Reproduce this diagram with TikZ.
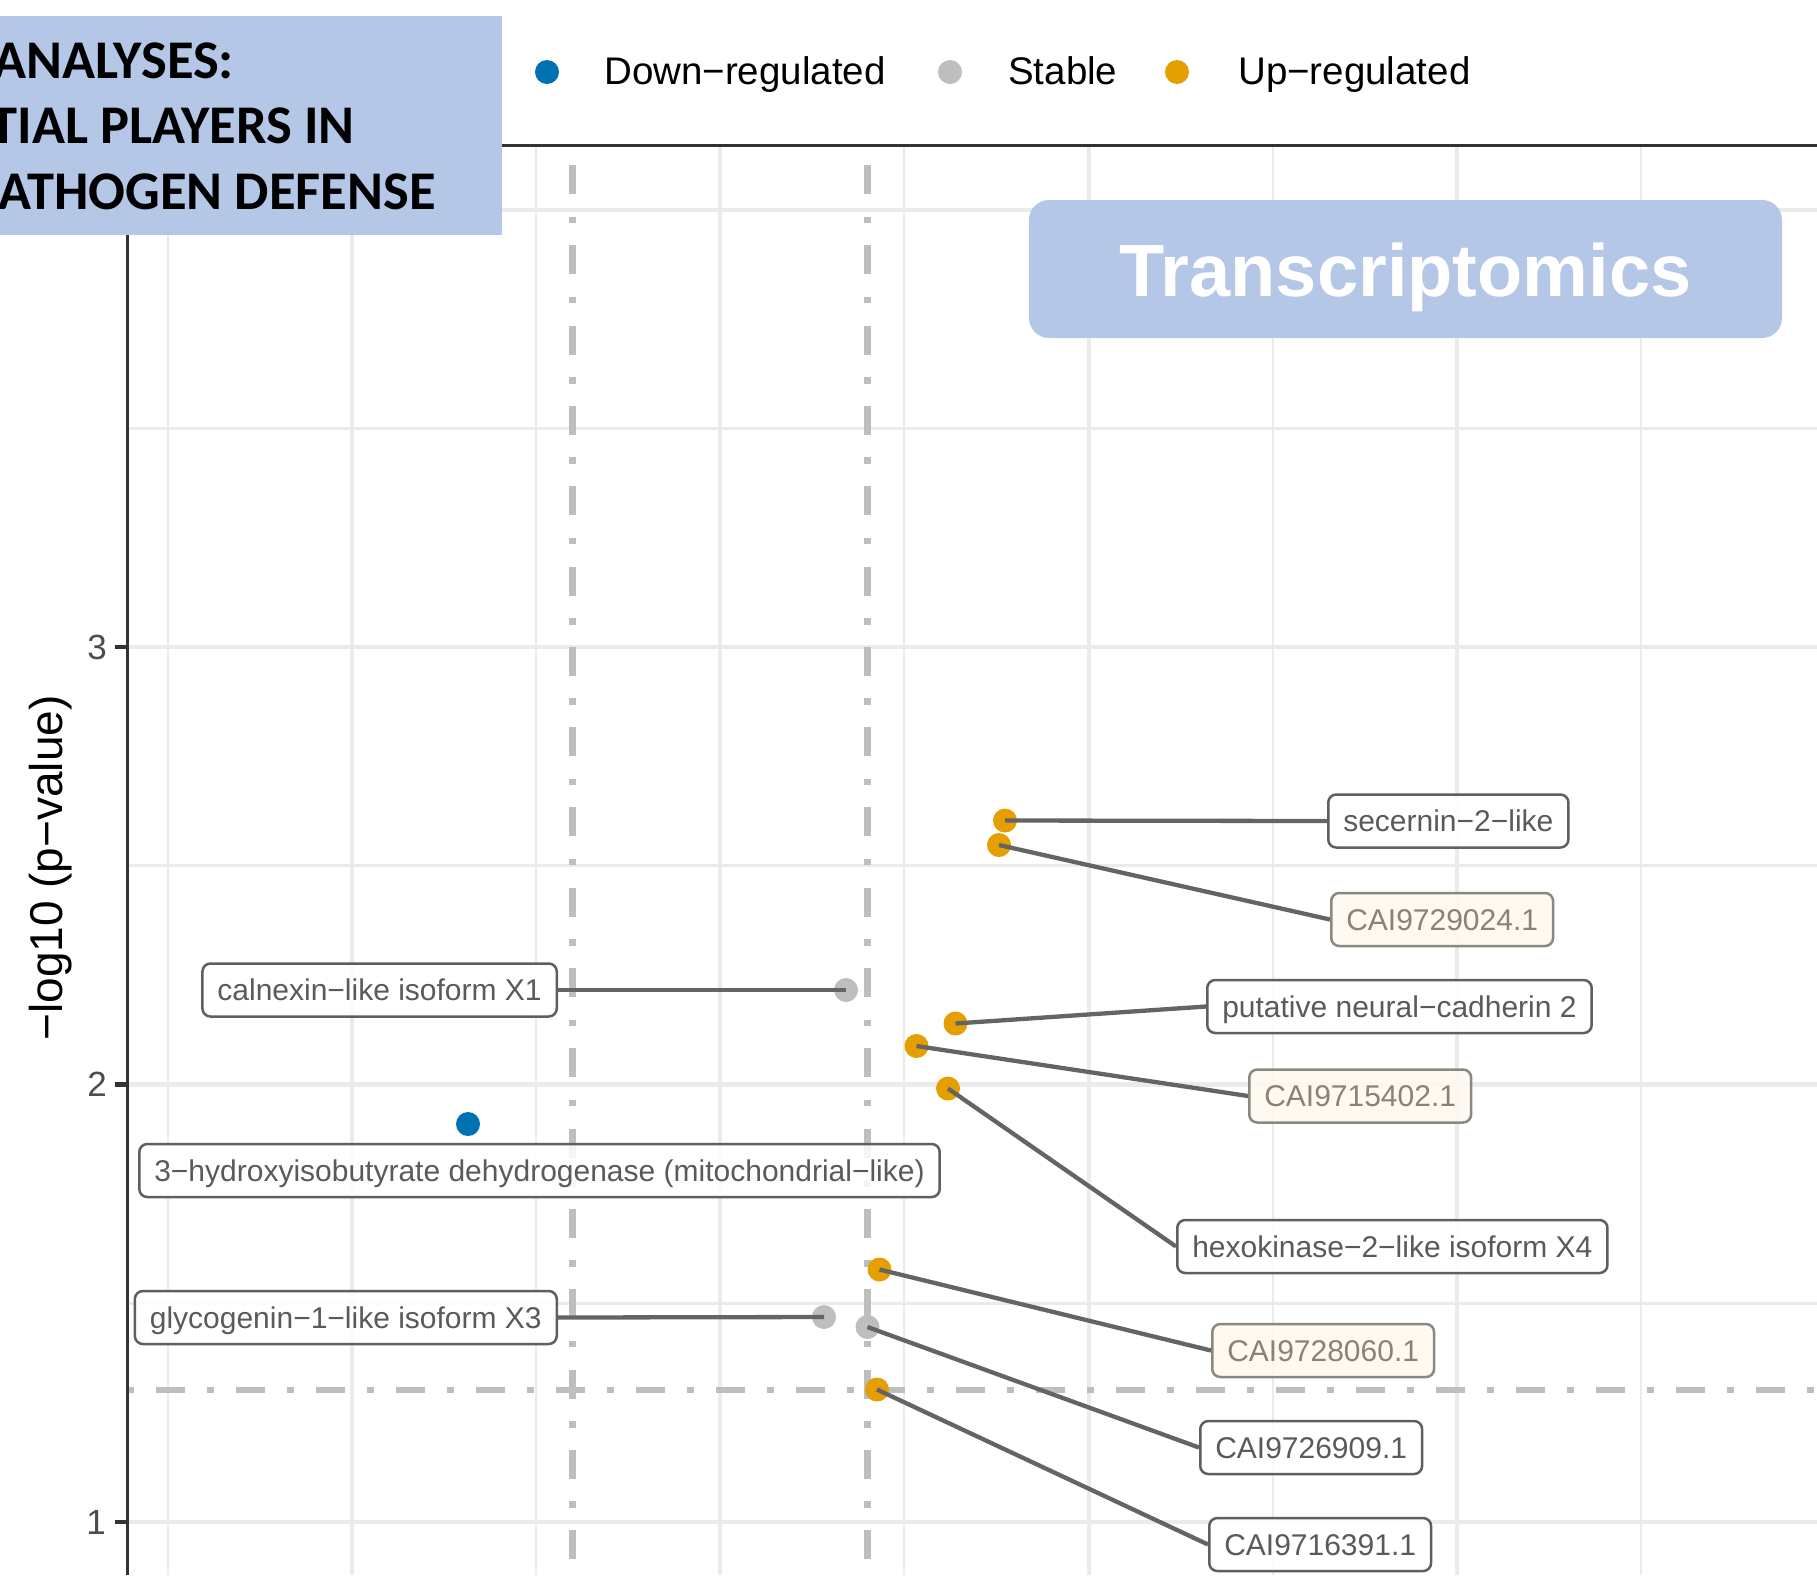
\documentclass[tikz,border=0pt]{standalone}
\usepackage{fontspec}
\setmainfont{Liberation Sans}
\newfontfamily\calfont{Carlito}
\definecolor{bluebox}{RGB}{180,199,231}
\definecolor{gridc}{RGB}{235,235,235}
\definecolor{axisc}{RGB}{51,51,51}
\definecolor{thrc}{RGB}{190,190,190}
\definecolor{downc}{RGB}{0,114,178}
\definecolor{stablec}{RGB}{190,190,190}
\definecolor{upc}{RGB}{230,159,0}
\definecolor{segc}{RGB}{100,100,100}
\definecolor{labtext}{RGB}{90,90,90}
\definecolor{labdraw}{RGB}{95,95,95}
\definecolor{creamfill}{RGB}{254,250,240}
\definecolor{creamdraw}{RGB}{140,136,128}
\definecolor{creamtext}{RGB}{135,131,122}
\definecolor{ticktext}{RGB}{77,77,77}
\begin{document}
\begin{tikzpicture}[x=1pt,y=-1pt,
  gridmaj/.style={draw=gridc,line width=4.3pt},
  gridmin/.style={draw=gridc,line width=2.7pt},
  thrline/.style={draw=thrc,line width=6.5pt},
  axisline/.style={draw=axisc,line width=3pt},
  tickline/.style={draw=axisc,line width=4.3pt},
  dotnode/.style={circle,inner sep=0pt,minimum size=24pt},
  downdot/.style={dotnode,fill=downc},
  stabledot/.style={dotnode,fill=stablec},
  updot/.style={dotnode,fill=upc},
  seg/.style={draw=segc,line width=4.3pt},
  genelab/.style={draw=labdraw,fill=white,fill opacity=0.85,text opacity=1,text=labtext,line width=2.5pt,rounded corners=8pt,inner xsep=15pt,inner ysep=0pt,minimum height=53pt,text height=21.5pt,text depth=0pt,font=\fontsize{30}{36}\selectfont},
  creamlab/.style={genelab,draw=creamdraw,fill=creamfill,text=creamtext},
  ticklab/.style={text=ticktext,inner sep=0pt,anchor=east,font=\fontsize{35}{42}\selectfont},
  legtext/.style={inner sep=0pt,anchor=base west,font=\fontsize{38.5}{46}\selectfont},
  titletext/.style={inner sep=0pt,anchor=base east,font=\calfont\bfseries\fontsize{54.5}{65}\selectfont}
]
\useasboundingbox (0,0) rectangle (1817,1575);
\clip (0,0) rectangle (1817,1575);
\fill[white] (0,0) rectangle (1817,1575);

% grid
\foreach \yy in {428.5,865.75,1303.25} \draw[gridmin] (127,\yy) -- (1817,\yy);
\foreach \yy in {210,647,1084.5,1522} \draw[gridmaj] (127,\yy) -- (1817,\yy);
\foreach \xx in {168,536,904,1273,1641} \draw[gridmin] (\xx,145) -- (\xx,1575);
\foreach \xx in {352,720,1089,1457} \draw[gridmaj] (\xx,145) -- (\xx,1575);

% thresholds
\draw[thrline,dash pattern=on 29pt off 22.5pt on 6.5pt off 22.3pt] (572.7,165) -- (572.7,1575);
\draw[thrline,dash pattern=on 29pt off 22.5pt on 6.5pt off 22.3pt] (867.7,165) -- (867.7,1575);
\draw[thrline,dash pattern=on 7pt off 22pt on 29pt off 22pt] (127,1390) -- (1817,1390);

% axes
\draw[axisline] (127,145) -- (1817,145);
\draw[axisline] (127.5,145) -- (127.5,1575);
\foreach \yy in {210,647,1084.5,1522} \draw[tickline] (115,\yy) -- (127.5,\yy);
\node[ticklab] (t3) at (107,647) {3};
\node[ticklab] (t2) at (107,1084.5) {2};
\node[ticklab] (t1) at (106,1522) {1};
\node[inner sep=0pt,anchor=base,rotate=90,font=\fontsize{46}{55}\selectfont] (ylab) at (62,868) {−log10 (p−value)};

% points
\node[downdot] (p1) at (468,1124) {};
\node[stabledot] (p2) at (846,990) {};
\node[updot] (p3) at (1005,820.5) {};
\node[updot] (p4) at (999,845) {};
\node[updot] (p5) at (955.5,1023.5) {};
\node[updot] (p6) at (916.5,1046) {};
\node[updot] (p7) at (948,1088.5) {};
\node[updot] (p8) at (879.5,1269.5) {};
\node[stabledot] (p9) at (824,1317) {};
\node[stabledot] (p10) at (867.5,1327) {};
\node[updot] (p11) at (877,1389.5) {};

% labels
\node[genelab,anchor=west] (l3) at (1327,821) {secernin−2−like};
\node[creamlab,anchor=west] (l4) at (1330,919.5) {CAI9729024.1};
\node[genelab,anchor=west] (l5) at (1206,1006.5) {putative neural−cadherin 2};
\node[creamlab,anchor=west] (l6) at (1248,1096) {CAI9715402.1};
\node[genelab,anchor=west] (l7) at (1176,1246.5) {hexokinase−2−like isoform X4};
\node[creamlab,anchor=west] (l8) at (1211,1350.5) {CAI9728060.1};
\node[genelab,anchor=west] (l10) at (1199,1447.5) {CAI9726909.1};
\node[genelab,anchor=west] (l11) at (1208,1544.5) {CAI9716391.1};
\node[genelab,anchor=east] (l2) at (558,990) {calnexin−like isoform X1};
\node[genelab,anchor=east] (l9) at (558,1317.5) {glycogenin−1−like isoform X3};
\node[genelab] (l1) at (539.5,1170.5) {3−hydroxyisobutyrate dehydrogenase (mitochondrial−like)};

% segments
\draw[seg] (p3.center) -- (l3.west);
\draw[seg] (p4.center) -- (l4.west);
\draw[seg] (p5.center) -- (l5.west);
\draw[seg] (p6.center) -- (l6.west);
\draw[seg] (p7.center) -- (l7.west);
\draw[seg] (p8.center) -- (l8.west);
\draw[seg] (p10.center) -- (l10.west);
\draw[seg] (p11.center) -- (l11.west);
\draw[seg] (p2.center) -- (l2.east);
\draw[seg] (p9.center) -- (l9.east);

% title box
\fill[bluebox] (0,16) rectangle (502,235);
\node[titletext] (ta) at (234,78) {ANALYSES:};
\node[titletext] (tb) at (355,143) {TIAL PLAYERS IN};
\node[titletext] (tc) at (436,209) {ATHOGEN DEFENSE};

% legend
\node[downdot] (ld) at (547,72) {};
\node[legtext] (ldt) at (604,84) {Down−regulated};
\node[stabledot] (ls) at (950,72) {};
\node[legtext] (lst) at (1008,84) {Stable};
\node[updot] (lu) at (1177,72) {};
\node[legtext] (lut) at (1238,84) {Up−regulated};

% transcriptomics
\node[fill=bluebox,rounded corners=20pt,minimum width=753pt,minimum height=138pt,inner sep=0pt,text=white,text height=54pt,text depth=0pt,font=\bfseries\fontsize{74}{89}\selectfont] (tr) at (1405.5,269) {Transcriptomics};
\end{tikzpicture}
\end{document}
